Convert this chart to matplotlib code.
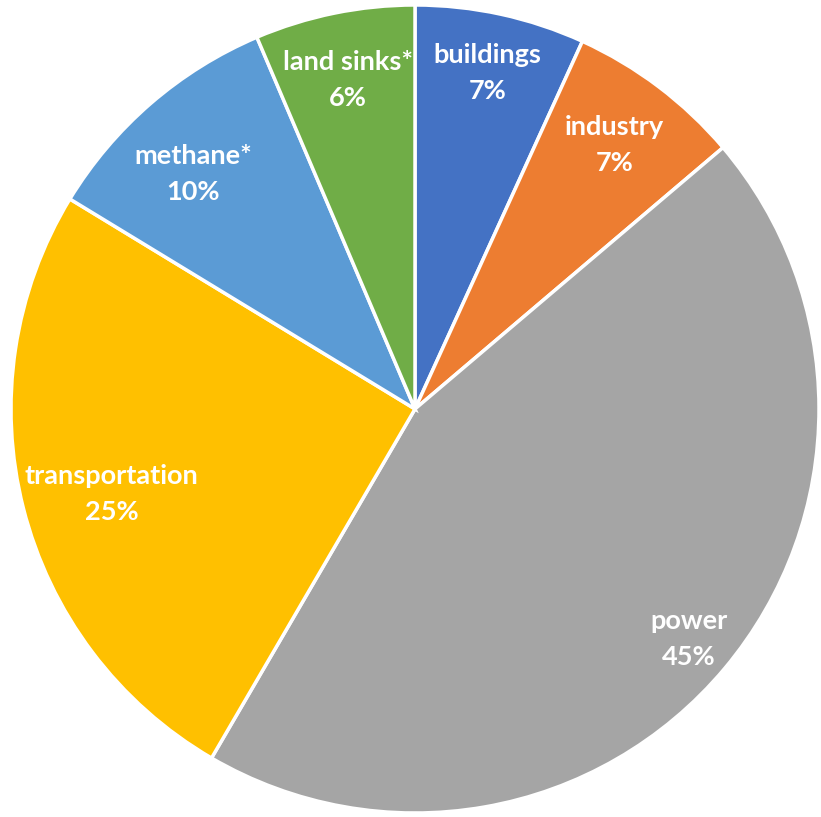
import numpy as np
import matplotlib
matplotlib.use("Agg")
import matplotlib.pyplot as plt

# slice data, clockwise from 12 o'clock
categories = ['buildings', 'industry', 'power', 'transportation', 'methane*', 'land sinks*']
shares = [6.8, 7.0, 44.6, 25.3, 9.9, 6.4]
colors = ['#4472C4', '#ED7D31', '#A5A5A5', '#FFC000', '#5B9BD5', '#70AD47']

# radial position of each label (fraction of radius), like Excel "inside end"
label_r = [0.85, 0.82, 0.885, 0.78, 0.80, 0.83]
# small angular nudge of each label (degrees)
label_dtheta = [0, 0, 0, 1.5, 2.5, 0]

W, H = 821, 817
fig = plt.figure(figsize=(W / 100, H / 100), dpi=100)
ax = fig.add_axes([0, 0, 1, 1])

cx, cy, R = 415, H - 409, 404
wedges, _ = ax.pie(shares, colors=colors, startangle=90, counterclock=False,
                   center=(cx, cy), radius=R, frame=True,
                   wedgeprops=dict(edgecolor='white', linewidth=2.5))
ax.set_xlim(0, W)
ax.set_ylim(0, H)
ax.set_aspect('equal')
ax.axis('off')

total = sum(shares)
for w, name, v, r, dt in zip(wedges, categories, shares, label_r, label_dtheta):
    mid = np.deg2rad((w.theta1 + w.theta2) / 2 + dt)
    x = cx + r * R * np.cos(mid)
    y = cy + r * R * np.sin(mid)
    ax.text(x, y, f"{name}\n{round(v / total * 100):.0f}%", ha='center', va='center',
            color='white', fontsize=19.5, fontweight='bold', family='Lato',
            linespacing=1.6)

fig.savefig('out.png', dpi=100)
